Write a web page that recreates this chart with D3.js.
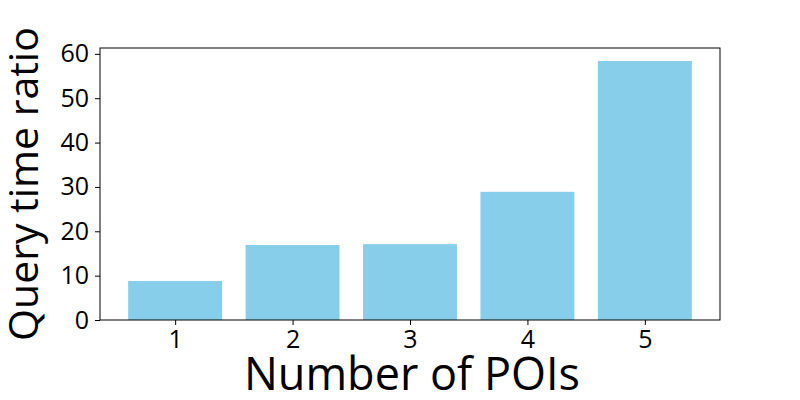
<!DOCTYPE html>
<html>
<head>
<meta charset="utf-8">
<script src="https://cdn.jsdelivr.net/npm/d3@7"></script>
<style>
  body { margin: 0; background: #fff; }
  .tick text { font-family: "Open Sans", sans-serif; font-size: 25px; fill: #000; }
  .axis-label { font-family: "Open Sans", sans-serif; fill: #000; }
</style>
</head>
<body>
<div id="chart"></div>
<script>
// Data
const categories = [1, 2, 3, 4, 5];
const ratios = [8.8, 16.9, 17.1, 28.9, 58.4];
const yTicks = [0, 10, 20, 30, 40, 50, 60];

const margin = {top: 48, right: 80, bottom: 80, left: 100};
const width = 800 - margin.left - margin.right;
const height = 400 - margin.top - margin.bottom;
const barWidth = 0.8;

const svg = d3.select("#chart")
    .append("svg")
    .attr("width", 800)
    .attr("height", 400)
    .append("g")
    .attr("transform", `translate(${margin.left},${margin.top})`);

// matplotlib-style 5% margins
const xMin = categories[0] - barWidth / 2, xMax = categories[categories.length - 1] + barWidth / 2;
const xPad = (xMax - xMin) * 0.05;
const x = d3.scaleLinear()
    .domain([xMin - xPad, xMax + xPad])
    .range([0, width]);

const y = d3.scaleLinear()
    .domain([0, d3.max(ratios) * 1.05])
    .range([height, 0]);

svg.selectAll("rect.bar")
    .data(categories)
    .enter()
    .append("rect")
    .attr("class", "bar")
    .attr("x", d => x(d - barWidth / 2))
    .attr("width", d => x(d + barWidth / 2) - x(d - barWidth / 2))
    .attr("y", (d, i) => y(ratios[i]))
    .attr("height", (d, i) => height - y(ratios[i]))
    .attr("fill", "#87ceeb");

const xAxis = svg.append("g")
    .attr("transform", `translate(0,${height})`)
    .call(d3.axisBottom(x).tickValues(categories).tickFormat(d3.format("d")).tickSize(5).tickPadding(5));

const yAxis = svg.append("g")
    .call(d3.axisLeft(y).tickValues(yTicks).tickSize(5).tickPadding(6));

[xAxis, yAxis].forEach(a => {
    a.select(".domain").remove();
    a.selectAll(".tick line").attr("stroke", "#000").attr("stroke-width", 1);
});

// frame
svg.append("rect")
    .attr("width", width)
    .attr("height", height)
    .attr("fill", "none")
    .attr("stroke", "#000")
    .attr("stroke-width", 1);

svg.append("text")
    .attr("class", "axis-label")
    .attr("x", width / 2 + 2)
    .attr("y", height + 70)
    .attr("text-anchor", "middle")
    .style("font-size", "45px")
    .text("Number of POIs");

svg.append("text")
    .attr("class", "axis-label")
    .attr("transform", "rotate(-90)")
    .attr("x", -height / 2)
    .attr("y", -62)
    .attr("text-anchor", "middle")
    .style("font-size", "41px")
    .text("Query time ratio");
</script>
</body>
</html>
